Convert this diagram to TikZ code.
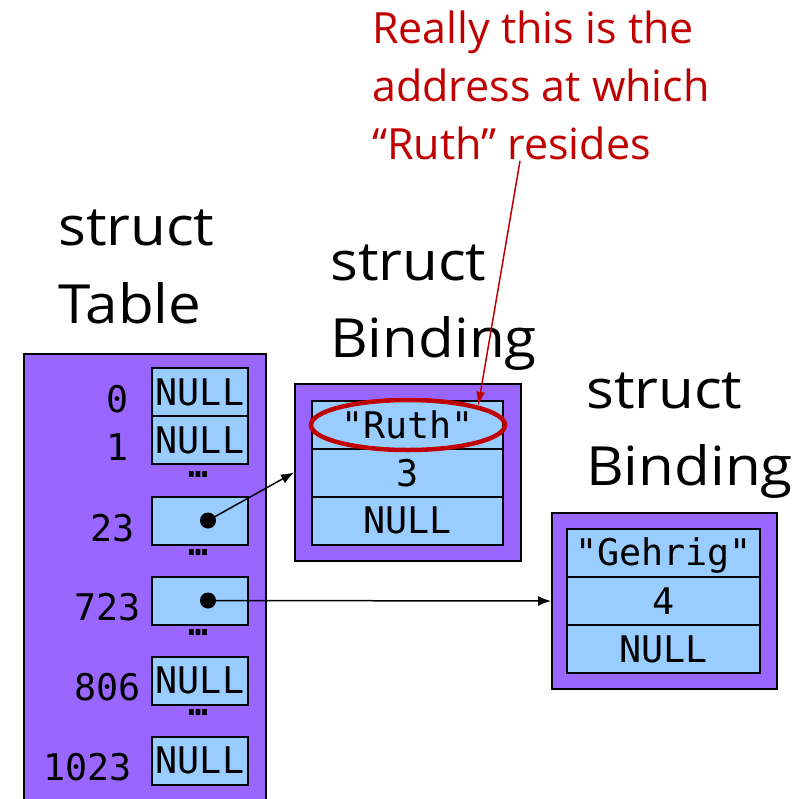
\documentclass[tikz,border=0pt]{standalone}
\usepackage{fontspec}
\setmainfont{Open Sans}
\newfontfamily\headfont[FakeStretch=1.08]{Open Sans}
\newfontfamily\monofont{DejaVu Sans Mono}
\usetikzlibrary{arrows.meta,shapes.geometric}
\definecolor{structpurple}{RGB}{153,102,255}
\definecolor{cellblue}{RGB}{153,204,255}
\definecolor{notered}{RGB}{192,0,0}

\begin{document}
\begin{tikzpicture}[x=1pt,y=-1pt,
	outerbox/.style={draw,line width=2pt,fill=structpurple,inner sep=0pt},
	cell/.style={draw,line width=2pt,fill=cellblue,inner sep=0pt,minimum height=48pt,
		font=\monofont\fontsize{36.7}{36.7}\selectfont,text height=26pt,text depth=0pt},
	slot/.style={cell,minimum width=96pt},
	idx/.style={anchor=base east,inner sep=0pt,font=\monofont\fontsize{36.7}{36.7}\selectfont},
	gap/.style={inner sep=0pt,font=\monofont\bfseries\fontsize{33}{33}\selectfont},
	ptrdot/.style={circle,fill=black,inner sep=0pt,minimum size=16pt},
	ptrarrow/.style={line width=1.5pt,-{Latex[length=13pt,width=10pt]}},
	heading/.style={anchor=base west,inner sep=0pt,font=\headfont\fontsize{54}{54}\selectfont},
	note/.style={anchor=base west,inner sep=0pt,text=notered,font=\fontsize{43}{43}\selectfont},
	ring/.style={ellipse,draw=notered,line width=4.5pt,minimum width=194pt,minimum height=50pt}]
	\useasboundingbox (0,0) rectangle (803,798);
	%%%%%%%%%%%%%%%%%%%%%%%%%%%%%%%%
	\node[heading] (tabhead1) at (58,245) {struct};
	\node[heading] (tabhead2) at (58,323) {Table};
	\node[outerbox,anchor=north west,minimum width=242pt,minimum height=470pt] (table) at (23,353) {};
	\foreach \i/\y/\txt in {0/392/NULL,1/440/NULL,23/520.5/,723/600.5/,806/680.5/NULL,1023/760.5/NULL}
		\node[slot] (slot\i) at (200,\y) {\txt};
	\node[idx] (idx0) at (129,412) {0};
	\node[idx] (idx1) at (129,460) {1};
	\node[idx] (idx23) at (135,541) {23};
	\node[idx] (idx723) at (141,620) {723};
	\node[idx] (idx806) at (141,700) {806};
	\node[idx] (idx1023) at (132,780) {1023};
	\foreach \y [count=\k] in {474.5,553,633,713}
		\node[gap] (gap\k) at (198,\y) {…};
	\node[ptrdot] (ptr23) at (208,520.5) {};
	\node[ptrdot] (ptr723) at (208,600.5) {};
	%%%%%%%%%%%%%%%%%%%%%%%%%%%%%%%%
	\node[heading] (b1head1) at (330,280) {struct};
	\node[heading] (b1head2) at (330,357) {Binding};
	\node[outerbox,minimum width=226pt,minimum height=177pt] (bind1) at (408,472.5) {};
	\node[cell,minimum width=191pt] (b1key) at (407.5,425) {"Ruth"};
	\node[cell,minimum width=191pt] (b1val) at (407.5,473) {3};
	\node[cell,minimum width=191pt] (b1next) at (407.5,520.5) {NULL};
	%%%%%%%%%%%%%%%%%%%%%%%%%%%%%%%%
	\node[heading] (b2head1) at (586,408) {struct};
	\node[heading] (b2head2) at (586,485) {Binding};
	\node[outerbox,minimum width=225pt,minimum height=176pt] (bind2) at (664.5,601) {};
	\node[cell,minimum width=193pt] (b2key) at (663.5,552.5) {"Gehrig"};
	\node[cell,minimum width=193pt] (b2val) at (663.5,601) {4};
	\node[cell,minimum width=193pt] (b2next) at (663.5,649) {NULL};
	%%%%%%%%%%%%%%%%%%%%%%%%%%%%%%%%
	\draw[ptrarrow] (ptr23.center) -- (bind1.west);
	\draw[ptrarrow] (ptr723.center) -- (bind2.west);
	%%%%%%%%%%%%%%%%%%%%%%%%%%%%%%%%
	\node[note] (note1) at (372,43) {Really this is the};
	\node[note] (note2) at (372,101) {address at which};
	\node[note] (note3) at (372,159) {“Ruth” resides};
	\node[ring] (ruthring) at (408,425) {};
	\coordinate (notetail) at (520,161);
	\draw[notered,line width=1.5pt,-{Latex[length=14pt,width=9pt]}] (notetail) -- (ruthring.north east);
\end{tikzpicture}
\end{document}
